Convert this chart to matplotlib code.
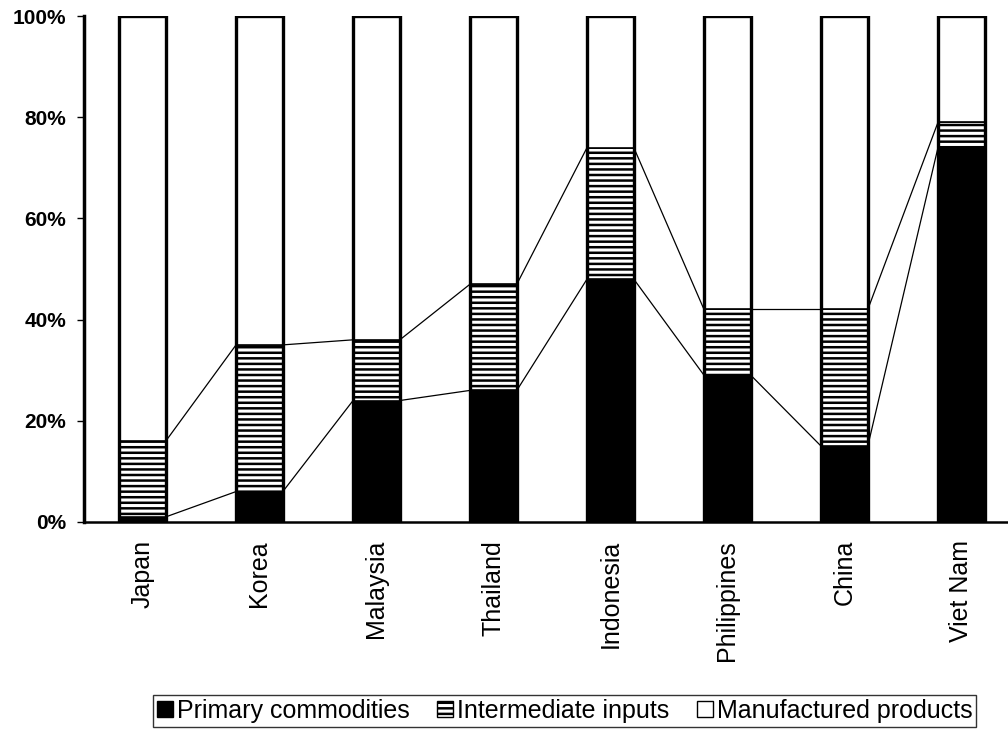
import matplotlib
matplotlib.use('Agg')
import matplotlib.pyplot as plt
from matplotlib.patches import Patch
import numpy as np

plt.rcParams['font.family'] = ['Liberation Sans', 'DejaVu Sans']
plt.rcParams['hatch.linewidth'] = 1.8

# data (shares, %)
countries = ['Japan', 'Korea', 'Malaysia', 'Thailand', 'Indonesia',
             'Philippines', 'China', 'Viet Nam']
primary = [1, 6, 24, 26, 48, 29, 15, 74]
intermediate = [15, 29, 12, 21, 26, 13, 27, 5]
manufactured = [84, 65, 64, 53, 26, 58, 58, 21]

x = np.arange(len(countries))
w = 0.4

fig = plt.figure(figsize=(10.08, 7.32), dpi=100)
ax = fig.add_axes([0.0833, 0.287, 0.925, 0.691])

p = np.array(primary, dtype=float)
m = np.array(intermediate, dtype=float)
f = np.array(manufactured, dtype=float)
tot = p + m + f
p, m, f = p / tot * 100, m / tot * 100, f / tot * 100

ax.bar(x, p, w, color='black', edgecolor='black', linewidth=1.2)
ax.bar(x, m, w, bottom=p, color='white', edgecolor='black', hatch='---', linewidth=1.2)
ax.bar(x, f, w, bottom=p + m, color='white', edgecolor='black', linewidth=1.2)
# bar outlines
ax.bar(x, p + m + f, w, fill=False, edgecolor='black', linewidth=2.4)

# series lines between bars
for levels in (p, p + m):
    for i in range(len(x) - 1):
        ax.plot([x[i] + w / 2, x[i + 1] - w / 2], [levels[i], levels[i + 1]],
                color='black', lw=0.9)

ax.set_xlim(-0.5, 7.47)
ax.set_ylim(0, 100)
ax.set_yticks(range(0, 101, 20))
ax.set_yticklabels([f'{v}%' for v in range(0, 101, 20)], fontsize=15, fontweight='bold')
ax.set_xticks(x)
ax.set_xticklabels(countries, rotation=90, fontsize=18)
ax.tick_params(axis='x', length=0, pad=13)
ax.tick_params(axis='y', length=5, width=1, direction='out', pad=8)
for s in ('top', 'right'):
    ax.spines[s].set_visible(False)
ax.spines['left'].set_linewidth(2.5)
ax.spines['bottom'].set_linewidth(1.8)

handles = [Patch(facecolor='black', edgecolor='black'),
           Patch(facecolor='white', edgecolor='black', hatch='---'),
           Patch(facecolor='white', edgecolor='black')]
leg = fig.legend(handles, ['Primary commodities', 'Intermediate inputs', 'Manufactured products'],
                 loc='center', bbox_to_anchor=(0.56, 0.029), ncol=3, fontsize=18,
                 frameon=True, fancybox=False, edgecolor='black', handlelength=0.65,
                 handleheight=0.65, handletextpad=0.15, columnspacing=1.1, borderpad=0.15,
                 borderaxespad=0)
leg.get_frame().set_linewidth(1.0)

fig.savefig('out.png', dpi=100)
